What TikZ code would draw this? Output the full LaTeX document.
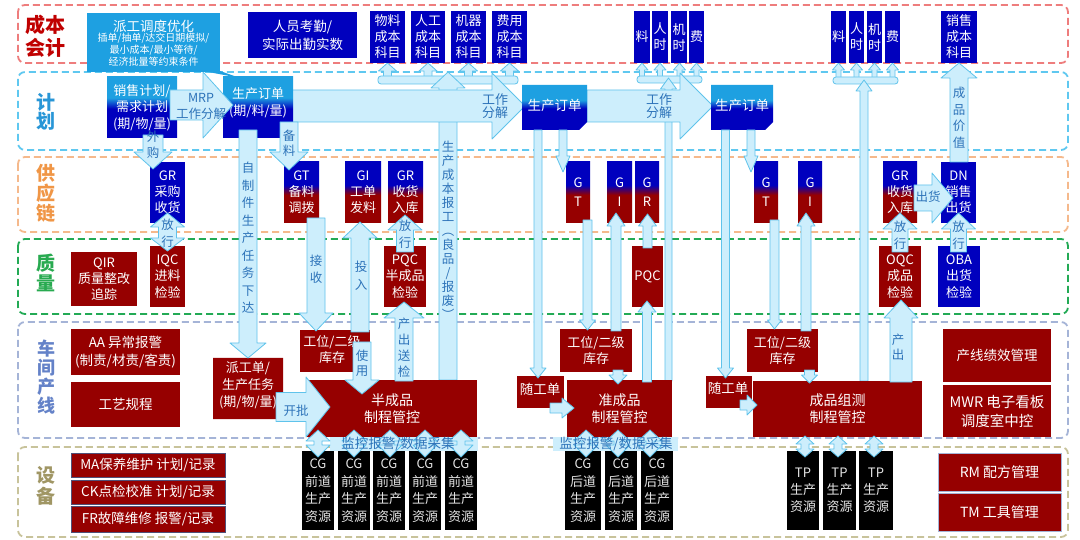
\documentclass[tikz,border=0pt]{standalone}
\usepackage{fontspec}
\setmainfont{Noto Sans CJK SC}
\definecolor{navyb}{RGB}{0,0,190}
\definecolor{dred}{RGB}{150,0,0}
\definecolor{cyanb}{RGB}{30,160,225}
\definecolor{arrf}{RGB}{205,238,252}
\definecolor{arrd}{RGB}{95,195,235}
\definecolor{arrt}{RGB}{45,115,185}
\definecolor{bandc}{RGB}{238,125,125}
\definecolor{bandp}{RGB}{95,200,240}
\definecolor{bands}{RGB}{245,185,140}
\definecolor{bandq}{RGB}{35,170,85}
\definecolor{bandl}{RGB}{165,180,215}
\definecolor{bande}{RGB}{200,195,155}
\definecolor{labc}{RGB}{192,0,0}
\definecolor{labp}{RGB}{40,150,215}
\definecolor{labs}{RGB}{240,150,70}
\definecolor{labq}{RGB}{40,170,80}
\definecolor{labl}{RGB}{100,130,200}
\definecolor{labe}{RGB}{160,150,100}
\definecolor{bxline}{RGB}{80,80,120}
\pgfdeclareverticalshading{bluered}{100bp}{color(0bp)=(dred); color(48bp)=(dred); color(56bp)=(navyb); color(100bp)=(navyb)}
\pgfdeclareverticalshading{cyanblue}{100bp}{color(0bp)=(navyb); color(49bp)=(navyb); color(58bp)=(cyanb); color(100bp)=(cyanb)}
\newcommand\fsz[2]{\fontsize{#1}{#2}\selectfont}
\newcommand\mybox[7]{\node[#2,minimum width={(#5-#3)*1pt},minimum height={(#6-#4)*1pt}] (#1) at ({(#3+#5)/2},{(#4+#6)/2}) {#7};}
% vertical block arrow: x, ystart, ybase, ytip, bodyhalf, headhalf
\newcommand\vArr[6]{\draw[barrow] ({#1-#5},#2) -- ({#1+#5},#2) -- ({#1+#5},#3) -- ({#1+#6},#3) -- (#1,#4) -- ({#1-#6},#3) -- ({#1-#5},#3) -- cycle;}
% horizontal block arrow: y, xstart, xbase, xtip, bodyhalf, headhalf
\newcommand\hArr[6]{\draw[barrow] (#2,{#1-#5}) -- (#3,{#1-#5}) -- (#3,{#1-#6}) -- (#4,#1) -- (#3,{#1+#6}) -- (#3,{#1+#5}) -- (#2,{#1+#5}) -- cycle;}
% double vertical arrow: x, tip1, base1, base2, tip2, bodyhalf, headhalf
\newcommand\dArr[7]{\draw[barrow] (#1,#2) -- ({#1+#7},#3) -- ({#1+#6},#3) -- ({#1+#6},#4) -- ({#1+#7},#4) -- (#1,#5) -- ({#1-#7},#4) -- ({#1-#6},#4) -- ({#1-#6},#3) -- ({#1-#7},#3) -- cycle;}
\tikzset{
  lane/.style={line width=1.8pt,dash pattern=on 7pt off 4pt,rounded corners=7pt},
  nb/.style={fill=navyb,text=white,font=\fsz{13}{16}},
  rb/.style={fill=dred,text=white,font=\fsz{13}{16}},
  rbl/.style={fill=dred,text=white,draw=bxline,line width=0.8pt,font=\fsz{13.5}{17}},
  kb/.style={fill=black,text=white!90!black,font=\fsz{13}{17.5}},
  gbr/.style={shade,shading=bluered,text=white,font=\fsz{13}{16}},
  gcb/.style={shade,shading=cyanblue,text=white,font=\fsz{13}{16.5}},
  barrow/.style={fill=arrf,draw=arrd,line width=0.8pt,line join=round},
  atext/.style={text=arrt,font=\fsz{12.5}{15}},
  wtext/.style={text=white},
  lanelab/.style={font=\fsz{20}{23}\bfseries},
  monb/.style={fill=arrf,text=arrt,font=\fsz{13.5}{14}}
}
\begin{document}
\begin{tikzpicture}[x=1pt,y=-1pt,every node/.style={inner sep=0pt,outer sep=0pt,align=center}]
\useasboundingbox (0,0) rectangle (1080,540);
\fill[white] (0,0) rectangle (1080,540);
% lanes
\draw[lane,draw=bandc] (18,5) rectangle (1068,63);
\draw[lane,draw=bandp] (18,72) rectangle (1068,150);
\draw[lane,draw=bands] (18,157) rectangle (1068,232);
\draw[lane,draw=bandq] (18,239) rectangle (1068,314);
\draw[lane,draw=bandl] (18,322) rectangle (1068,438);
\draw[lane,draw=bande] (18,447) rectangle (1068,537);
\node[lanelab,text=labc] (Lcost) at (45,36) {成本\\会计};
\node[lanelab,text=labp,font=\fsz{19}{19}\bfseries] (Lplan) at (46,112) {计\\划};
\node[lanelab,text=labs,font=\fsz{19}{20}\bfseries] (Lsup) at (46,193) {供\\应\\链};
\node[lanelab,text=labq,font=\fsz{19}{20}\bfseries] (Lq) at (46,273) {质\\量};
\node[lanelab,text=labl,font=\fsz{18}{19}\bfseries] (Ll) at (46,377) {车\\间\\产\\线};
\node[lanelab,text=labe,font=\fsz{19}{21}\bfseries] (Le) at (46,486) {设\\备};

% cost forks (drawn below horizontal arrows)
\foreach \x in {387.5,428,468.5,509.5} {\vArr{\x}{80}{71}{63}{4}{9}}
\draw[barrow,rounded corners=3pt] (378,76) rectangle (518,84);
\vArr{448}{380}{88}{72}{9}{17}
\foreach \x in {642,660,679.5,696.5} {\vArr{\x}{80}{70}{63}{2.5}{6}}
\draw[barrow,rounded corners=3pt] (637,76) rectangle (702,83);
\vArr{668.5}{381}{89}{78}{3.5}{8}
\foreach \x in {838.5,856.5,874.5,892.5} {\vArr{\x}{80}{70}{63}{2.5}{6}}
\draw[barrow,rounded corners=3pt] (833,77) rectangle (898,84);
\vArr{864}{381}{91}{80}{4}{8}

% big horizontal arrows
\hArr{106}{290}{492}{525}{16}{33}
\hArr{106}{587}{680}{713}{16}{33}

% ---- cost row boxes
\mybox{att}{nb,font=\fsz{13.5}{18}}{248}{12}{357}{58}{人员考勤/\\实际出勤实数}
\mybox{c1}{nb}{370}{11}{405}{63}{物料\\成本\\科目}
\mybox{c2}{nb}{411}{11}{445}{63}{人工\\成本\\科目}
\mybox{c3}{nb}{451}{11}{486}{63}{机器\\成本\\科目}
\mybox{c4}{nb}{492}{11}{527}{63}{费用\\成本\\科目}
\mybox{d1}{nb}{634}{11}{650}{63}{料}
\mybox{d2}{nb}{652}{11}{668}{63}{人\\时}
\mybox{d3}{nb}{671}{11}{687}{63}{机\\时}
\mybox{d4}{nb}{689}{11}{704}{63}{费}
\mybox{e1}{nb}{831}{11}{846}{63}{料}
\mybox{e2}{nb}{849}{11}{864}{63}{人\\时}
\mybox{e3}{nb}{867}{11}{882}{63}{机\\时}
\mybox{e4}{nb}{885}{11}{900}{63}{费}
\mybox{sc}{nb}{941}{11}{977}{63}{销售\\成本\\科目}

% ---- plan row boxes
\mybox{sales}{gcb}{107}{77}{177}{138}{销售计划/\\需求计划\\(期/物/量)}
\mybox{o1}{gcb}{223}{77}{293}{138}{}
\node[wtext,font=\fsz{13}{17}] (o1t) at (258,103) {生产订单\\(期/料/量)};
\shade[shading=cyanblue] (522,85) -- (587,85) -- (587,122) -- (579,130) -- (522,130) -- cycle;
\node[wtext,font=\fsz{13.5}{16}] (o2) at (554.5,105) {生产订单};
\shade[shading=cyanblue] (711,85) -- (773,85) -- (773,122) -- (765,130) -- (711,130) -- cycle;
\node[wtext,font=\fsz{13.5}{16}] (o3) at (742,105) {生产订单};

% ---- supply chain boxes
\mybox{gr1}{nb}{150}{162}{185}{223}{GR\\采购\\收货}
\mybox{gt1}{gbr}{284}{162}{319}{223}{GT\\备料\\调拨}
\mybox{gi1}{gbr}{345}{162}{381}{223}{GI\\工单\\发料}
\mybox{gr1b}{gbr}{388}{162}{423}{223}{GR\\收货\\入库}
\mybox{gt2}{gbr,font=\fsz{13}{19}}{566}{162}{590}{223}{G\\T}
\mybox{gi2}{gbr,font=\fsz{13}{19}}{607}{162}{632}{223}{G\\I}
\mybox{gr2}{gbr,font=\fsz{13}{19}}{635}{162}{659}{223}{G\\R}
\mybox{gt3}{gbr,font=\fsz{13}{19}}{754}{162}{778}{223}{G\\T}
\mybox{gi3}{gbr,font=\fsz{13}{19}}{798}{162}{822}{223}{G\\I}
\mybox{gr3}{gbr}{883}{162}{917}{223}{GR\\收货\\入库}
\mybox{dn}{nb}{941}{162}{976}{223}{DN\\销售\\出货}

% ---- quality boxes
\mybox{qir}{rb}{71}{252}{137}{306}{QIR\\质量整改\\追踪}
\mybox{iqc}{rb,font=\fsz{13}{16.5}}{150}{246}{185}{307}{IQC\\进料\\检验}
\mybox{pqc1}{rb,font=\fsz{13}{16.5}}{384}{246}{426}{307}{PQC\\半成品\\检验}
\mybox{pqc2}{rb}{632}{246}{663}{307}{PQC}
\mybox{oqc}{rb,font=\fsz{13}{16.5}}{879}{246}{921}{307}{OQC\\成品\\检验}
\mybox{oba}{nb,font=\fsz{13}{16.5}}{938}{246}{980}{307}{OBA\\出货\\检验}

% ---- line boxes
\mybox{aa}{rb,font=\fsz{13.5}{18}}{71}{329}{180}{375}{AA 异常报警\\(制责/材责/客责)}
\mybox{gy}{rb,font=\fsz{13.5}{17}}{71}{382}{180}{427}{工艺规程}
\fill[dred] (213,358) -- (283,358) -- (283,412) -- (276,419) -- (213,419) -- cycle;
\node[wtext,font=\fsz{13}{17}] (pgd) at (248,385) {派工单/\\生产任务\\(期/物/量)};
\mybox{kw1}{rb,font=\fsz{13}{16}}{300}{330}{370}{372}{}
\node[wtext,font=\fsz{13}{16}] (kw1t) at (332,350) {工位/二级\\库存};
\mybox{bcp}{rb,font=\fsz{14}{17}}{307}{380}{477}{437}{半成品\\制程管控}
\mybox{sg2}{rb}{517}{376}{564}{408}{}
\node[wtext,font=\fsz{13.5}{16}] (sg2t) at (540,389) {随工单};
\mybox{kw2}{rb,font=\fsz{13}{16}}{560}{329}{632}{372}{工位/二级\\库存}
\mybox{zcp}{rb,font=\fsz{14}{17}}{567}{380}{672}{437}{准成品\\制程管控}
\mybox{sg3}{rb}{706}{376}{752}{408}{}
\node[wtext,font=\fsz{13.5}{16}] (sg3t) at (728,388) {随工单};
\mybox{kw3}{rb,font=\fsz{13}{16}}{747}{329}{818}{372}{工位/二级\\库存}
\mybox{cpz}{rb,font=\fsz{14}{17}}{753}{381}{922}{437}{成品组测\\制程管控}
\mybox{jx}{rb,font=\fsz{13.5}{17}}{943}{329}{1051}{382}{产线绩效管理}
\mybox{mwr}{rb,font=\fsz{14.5}{19}}{943}{385}{1051}{437}{MWR 电子看板\\调度室中控}

% ---- equipment boxes
\mybox{ma}{rbl}{71}{453}{225}{477}{MA保养维护 计划/记录}
\mybox{ck}{rbl}{71}{480}{225}{504}{CK点检校准 计划/记录}
\mybox{fr}{rbl}{71}{506}{225}{532}{FR故障维修 报警/记录}
\mybox{rm}{rbl,font=\fsz{14}{17},draw=bandl}{938}{453}{1061}{491}{RM 配方管理}
\mybox{tm}{rbl,font=\fsz{14}{17},draw=bandl}{938}{493}{1061}{531}{TM 工具管理}
\foreach \i/\a in {1/302,2/338,3/373,4/409,5/445} {\mybox{cgf\i}{kb}{\a}{451}{\a+32}{530}{CG\\前道\\生产\\资源}}
\mybox{cgb1}{kb}{565}{451}{601}{530}{CG\\后道\\生产\\资源}
\mybox{cgb2}{kb}{605}{451}{637}{530}{CG\\后道\\生产\\资源}
\mybox{cgb3}{kb}{641}{451}{673}{530}{CG\\后道\\生产\\资源}
\mybox{tp1}{kb,font=\fsz{13}{17}}{787}{451}{819}{530}{TP\\生产\\资源}
\mybox{tp2}{kb,font=\fsz{13}{17}}{823}{451}{856}{530}{TP\\生产\\资源}
\mybox{tp3}{kb,font=\fsz{13}{17}}{859}{451}{893}{530}{TP\\生产\\资源}

% ---- monitoring bands and links
\mybox{mon1}{monb}{330}{437}{478}{451}{}
\mybox{mon2}{monb}{553}{437}{678}{451}{}
\foreach \x in {318,354,390,425,461} {\dArr{\x}{430}{441}{445}{457}{4}{12}}
\foreach \x in {586,618,650} {\dArr{\x}{430}{441}{445}{457}{4}{12}}
\foreach \x in {805,838,874} {\dArr{\x}{436}{444}{449}{457}{4}{9}}
\node[monb,fill=none] (mon1t) at (398,444) {监控报警/数据采集};
\node[monb,fill=none] (mon2t) at (616,444) {监控报警/数据采集};

% ---- other arrows
\hArr{105}{170}{203}{233}{15}{33}
\vArr{153}{135}{152}{169}{10}{19}
\vArr{248}{130}{343}{358}{9}{18}
\vArr{289}{122}{152}{170}{9}{19}
\vArr{538}{130}{368}{378}{4}{8}
\vArr{563}{130}{156}{172}{4}{7}
\vArr{725.5}{130}{368}{378}{4}{8}
\vArr{751}{130}{156}{172}{4}{7}
\dArr{167.5}{213}{227}{238}{251}{9}{17}
\vArr{405}{252}{230}{215}{8.5}{17}
\vArr{900}{252}{229}{213}{8}{17}
\vArr{958.5}{252}{229}{213}{8}{17}
\hArr{198}{914}{932}{953}{13}{25}
\vArr{959}{162}{78}{63}{9}{18}
\vArr{316}{218}{313}{331}{9}{17}
\vArr{360}{332}{238}{222}{9}{17}
\vArr{362}{342}{380}{394}{9}{17}
\vArr{404}{381}{318}{302}{9}{20}
\hArr{407}{276}{306}{330}{14.5}{30}
\hArr{408}{550}{562}{574}{5}{10}
\vArr{587.5}{220}{320}{330}{4.5}{8}
\vArr{616}{331}{226}{213}{5}{9}
\vArr{618}{370}{375}{384}{5}{9}
\vArr{647}{382}{312}{301}{4.5}{9}
\vArr{647.5}{248}{226}{214}{4.5}{9}
\hArr{405}{740}{747}{757}{5}{10}
\vArr{774.5}{220}{320}{329}{4.5}{7}
\vArr{806}{331}{226}{213}{5}{9}
\vArr{809.5}{370}{375}{383}{5}{8}
\vArr{901}{382}{318}{300}{11}{17}

% ---- arrow texts
\node[atext,font=\fsz{12.5}{16}] (mrpt) at (201,106) {MRP\\工作分解};
\node[atext,font=\fsz{13}{13.5}] (wf1) at (495,106) {工作\\分解};
\node[atext,font=\fsz{13}{13.5}] (wf2) at (659,106) {工作\\分解};
\node[atext,font=\fsz{12.5}{15.5}] (wgt) at (153,145) {外\\购};
\node[atext,font=\fsz{12.5}{17.5}] (zzj) at (248,238) {自\\制\\件\\生\\产\\任\\务\\下\\达};
\node[atext,font=\fsz{12.5}{15}] (blt) at (289,143) {备\\料};
\node[atext,font=\fsz{12.5}{14}] (cbt) at (448,230) {生\\产\\成\\本\\报\\工\\︵\\良\\品\\/\\报\\废\\︶};
\node[atext,font=\fsz{12.5}{17}] (fx1) at (167.5,233.5) {放\\行};
\node[atext,font=\fsz{12.5}{17}] (fx2) at (405,234.5) {放\\行};
\node[atext,font=\fsz{12.5}{17}] (fx3) at (900,235) {放\\行};
\node[atext,font=\fsz{12.5}{17}] (fx4) at (958.5,235) {放\\行};
\node[atext,font=\fsz{12.5}{15}] (chh) at (928,197) {出货};
\node[atext,font=\fsz{12.5}{16.5}] (cpjz) at (959,118) {成\\品\\价\\值};
\node[atext,font=\fsz{12.5}{17}] (js) at (316,269) {接\\收};
\node[atext,font=\fsz{12.5}{18}] (tr) at (361,276) {投\\入};
\node[atext,font=\fsz{12.5}{15}] (sy) at (362,363) {使\\用};
\node[atext,font=\fsz{12.5}{16}] (ccsj) at (404,348) {产\\出\\送\\检};
\node[atext,font=\fsz{12.5}{15}] (kp) at (296,411) {开批};
\node[atext,font=\fsz{12.5}{15}] (cc) at (898,347) {产\\出};

% ---- callout
\fill[cyanb] (87,13) rectangle (220,72);
\fill[cyanb] (203,71) -- (220,71) -- (240,78) -- cycle;
\node[wtext,font=\fsz{13.5}{15}] (disp) at (153.5,26) {派工调度优化};
\node[wtext,font=\fsz{10}{12}] (disps) at (153.5,50) {插单/抽单/达交日期模拟/\\最小成本/最小等待/\\经济批量等约束条件};
\end{tikzpicture}
\end{document}
